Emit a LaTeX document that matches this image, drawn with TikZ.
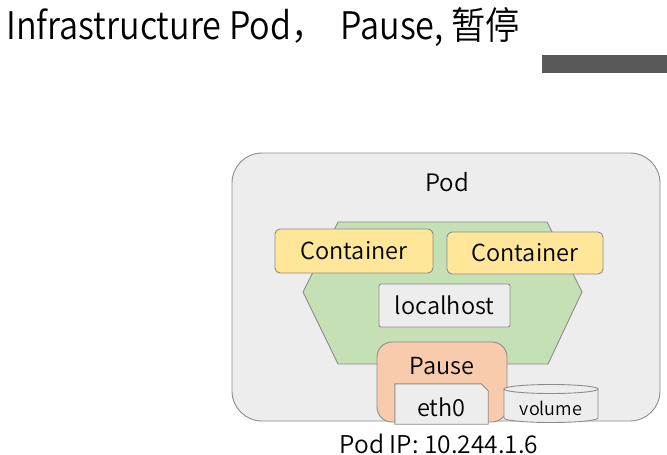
\documentclass[tikz,border=0pt]{standalone}
\usepackage{fontspec}
\setmainfont{Noto Sans CJK SC}[UprightFont=* DemiLight]
\usetikzlibrary{shapes.geometric}
\definecolor{podfill}{HTML}{EDEDED}
\definecolor{edge}{HTML}{8C8C8C}
\definecolor{hexfill}{HTML}{C5E0B4}
\definecolor{contfill}{HTML}{FFE699}
\definecolor{pausefill}{HTML}{F8CBAD}
\definecolor{barfill}{HTML}{595959}
\tikzset{
  box/.style={draw=edge, line width=0.9pt, inner sep=0pt},
  outline/.style={draw=edge, line width=0.9pt},
  contbox/.style={box, fill=contfill, rounded corners=5pt, font=\fontsize{23.5}{25}\selectfont},
  graybox/.style={box, fill=podfill, font=\fontsize{23.5}{25}\selectfont},
  lbl/.style={inner sep=0pt, font=\fontsize{23.5}{25}\selectfont},
}
\begin{document}
\begin{tikzpicture}[x=1pt,y=-1pt]
\useasboundingbox (0,0) rectangle (667,455);
% title
\node[anchor=base west, inner sep=0pt, font=\fontsize{38}{40}\selectfont] (title) at (6,39) {\scalebox{0.9}[1]{Infrastructure Pod，\ \ Pause, 暂停}};
\fill[barfill] (542,55) rectangle (667,73);
% pod
\node[box, fill=podfill, rounded corners=30pt, minimum width=428pt, minimum height=268pt] (pod) at (446,287) {};
\node[lbl, font=\fontsize{24}{26}\selectfont] (podlbl) at (447,182) {Pod};
% hexagon
\draw[fill=hexfill, outline] (338,222) -- (547,222) -- (582,292) -- (548,364) -- (338,364) -- (303,292) -- cycle;
\node[contbox, minimum width=158pt, minimum height=44pt] (c1) at (354,251) {Container};
\node[contbox, minimum width=156pt, minimum height=42pt] (c2) at (525,253) {Container};
\node[graybox, rounded corners=2pt, minimum width=131pt, minimum height=43pt] (lh) at (444.5,305.5) {localhost};
% pause
\node[box, fill=pausefill, rounded corners=15pt, minimum width=130pt, minimum height=80pt] (pause) at (442,382) {};
\node[lbl] (pauselbl) at (442,366) {Pause};
% eth0 with snipped corner
\node[inner sep=0pt, minimum width=93pt, minimum height=40pt] (eth) at (441.5,404) {};
\path[fill=podfill, outline] (eth.south west) -- (eth.north west) -- ([xshift=-7pt]eth.north east) -- ([yshift=-7pt]eth.north east) -- (eth.south east) -- cycle;
\node[lbl] (ethlbl) at (441.5,407) {eth0};
% volume cylinder
\coordinate (volc) at (551,389);
\path[fill=podfill, outline] (504,389) -- (504,418) arc[start angle=180, end angle=0, x radius=47, y radius=4.5] -- (598,389) -- cycle;
\draw[fill=podfill, outline] (volc) ellipse[x radius=47, y radius=4.5];
\node[lbl, font=\fontsize{18}{20}\selectfont] (vollbl) at (551,408) {volume};
\node[lbl, font=\fontsize{24.5}{26}\selectfont] (ip) at (439,444) {Pod IP: 10.244.1.6};
\end{tikzpicture}
\end{document}
